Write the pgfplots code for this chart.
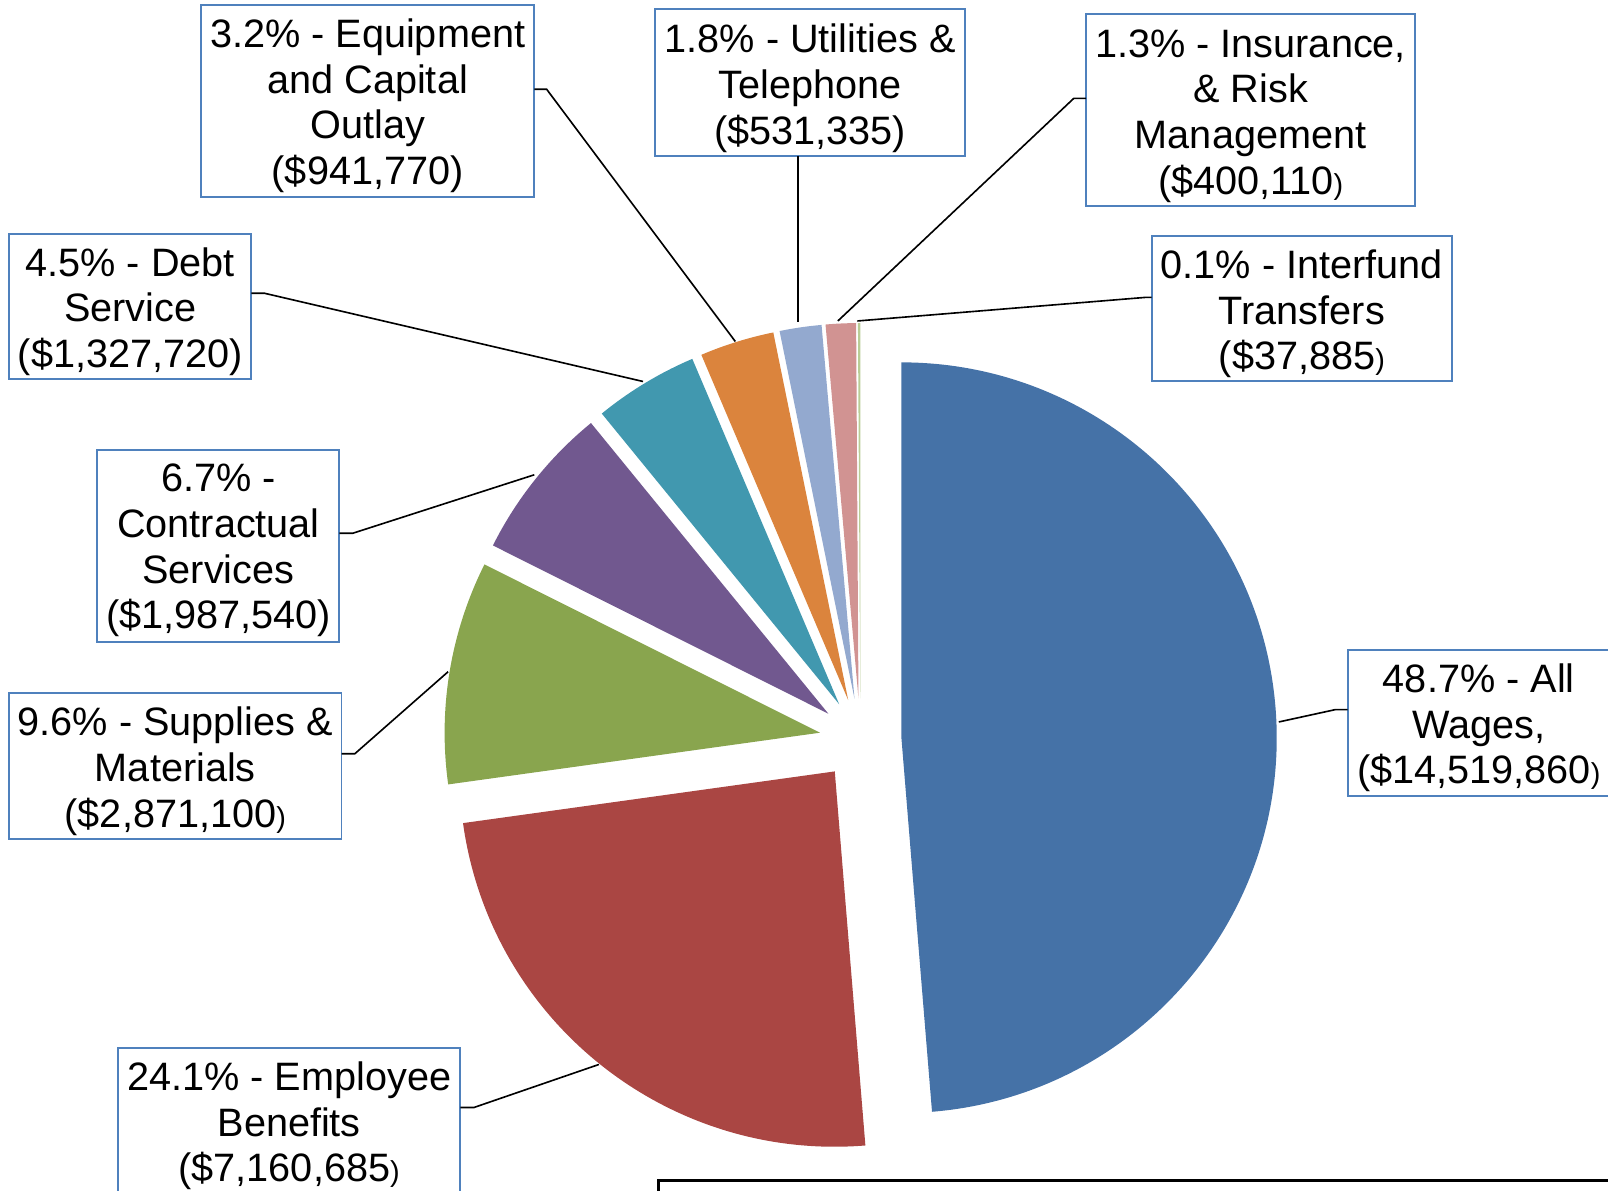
\documentclass[border=0pt]{standalone}
\usepackage{fontspec}
\setmainfont{Liberation Sans}
\usepackage{pgfplots}
\pgfplotsset{compat=1.18}

\definecolor{cWag}{HTML}{4572A7}
\definecolor{cBen}{HTML}{AA4643}
\definecolor{cSup}{HTML}{89A54E}
\definecolor{cCon}{HTML}{71588F}
\definecolor{cDeb}{HTML}{4198AF}
\definecolor{cEqu}{HTML}{DB843D}
\definecolor{cUti}{HTML}{93A9CF}
\definecolor{cIns}{HTML}{D19392}
\definecolor{cInt}{HTML}{B9CD96}
\definecolor{boxblue}{HTML}{4F81BD}

% small closing parenthesis as in the source
\newcommand\smp{{\fontsize{8}{8}\selectfont)}}

\begin{document}
\begin{tikzpicture}[
  lbl/.style={align=center, font=\fontsize{11}{12.66}\selectfont, inner sep=0pt, yshift=-0.04cm},
  lbox/.style={draw=boxblue, line width=0.55pt},
  lead/.style={black, line width=0.45pt},
]
\begin{axis}[hide axis, scale only axis, width=15.68cm, height=11.61cm,
  xmin=0, xmax=1568, ymin=0, ymax=1161, clip=false]

% pie: percent / colour, clockwise from 12 o'clock, every slice pulled out
\def\angS{90}
\foreach \p/\c in {48.7/cWag, 24.1/cBen, 9.6/cSup, 6.7/cCon, 4.5/cDeb,
                   3.2/cEqu, 1.8/cUti, 1.3/cIns, 0.1/cInt}{
  \pgfmathsetmacro\angE{\angS-3.6*\p}
  \pgfmathsetmacro\angM{(\angS+\angE)/2}
  \pgfmathsetmacro\cx{839+40*cos(\angM)}
  \pgfmathsetmacro\cy{440+40*sin(\angM)}
  \edef\tmp{\noexpand\fill[\c] (axis cs:\cx,\cy) -- ++(\angE:3.66cm)
    arc[start angle=\angE, end angle=\angS, radius=3.66cm] -- cycle;}
  \tmp
  \global\let\angS\angE
}

% label boxes
\draw[lbox] (axis cs:196,969) rectangle (axis cs:521,1156);
\node[lbl] at (axis cs:358.5,1062) {3.2\% - Equipment\\and Capital\\Outlay\\(\$941,770)};
\draw[lbox] (axis cs:639,1009) rectangle (axis cs:941,1152);
\node[lbl] at (axis cs:790,1079) {1.8\% - Utilities \&\\Telephone\\(\$531,335)};
\draw[lbox] (axis cs:1059,960) rectangle (axis cs:1380,1147);
\node[lbl] at (axis cs:1219.5,1052) {1.3\% - Insurance,\\\& Risk\\Management\\(\$400,110\smp};
\draw[lbox] (axis cs:1123,789) rectangle (axis cs:1416,931);
\node[lbl] at (axis cs:1269.5,859) {0.1\% - Interfund\\Transfers\\(\$37,885\smp};
\draw[lbox] (axis cs:9,791) rectangle (axis cs:245,933);
\node[lbl] at (axis cs:127,861) {4.5\% - Debt\\Service\\(\$1,327,720)};
\draw[lbox] (axis cs:95,535) rectangle (axis cs:331,722);
\node[lbl] at (axis cs:213,628) {6.7\% -\\Contractual\\Services\\(\$1,987,540)};
\draw[lbox] (axis cs:9,343) rectangle (axis cs:333,485);
\node[lbl] at (axis cs:171,413) {9.6\% - Supplies \&\\Materials\\(\$2,871,100\smp};
\draw[lbox] (axis cs:115,0) -- (axis cs:115,139) -- (axis cs:449,139) -- (axis cs:449,0);
\node[lbl] at (axis cs:282,67) {24.1\% - Employee\\Benefits\\(\$7,160,685\smp};
\draw[lbox] (axis cs:1568,527) -- (axis cs:1314,527) -- (axis cs:1314,385) -- (axis cs:1568,385);
\node[lbl] at (axis cs:1442,455) {48.7\% - All\\Wages,\\(\$14,519,860\smp};

% leader lines
\draw[lead] (axis cs:521,1074) -- (axis cs:533,1074) -- (axis cs:717,828);
\draw[lead] (axis cs:778,1009) -- (axis cs:778,847);
\draw[lead] (axis cs:1059,1065) -- (axis cs:1047,1065) -- (axis cs:817,848);
\draw[lead] (axis cs:1123,871) -- (axis cs:1117,871) -- (axis cs:836,848);
\draw[lead] (axis cs:245,875) -- (axis cs:258,875) -- (axis cs:627,789);
\draw[lead] (axis cs:331,641) -- (axis cs:344,641) -- (axis cs:521,698);
\draw[lead] (axis cs:333,426) -- (axis cs:346,426) -- (axis cs:437,506);
\draw[lead] (axis cs:449,81) -- (axis cs:462,81) -- (axis cs:584,123);
\draw[lead] (axis cs:1314,469) -- (axis cs:1302,469) -- (axis cs:1247,457);

% edge of the box below the chart
\draw[black, line width=0.8pt] (axis cs:1568,10) -- (axis cs:642,10) -- (axis cs:642,0);
\end{axis}
\pgfresetboundingbox
\useasboundingbox (current axis.south west) rectangle (current axis.north east);
\end{tikzpicture}
\end{document}
